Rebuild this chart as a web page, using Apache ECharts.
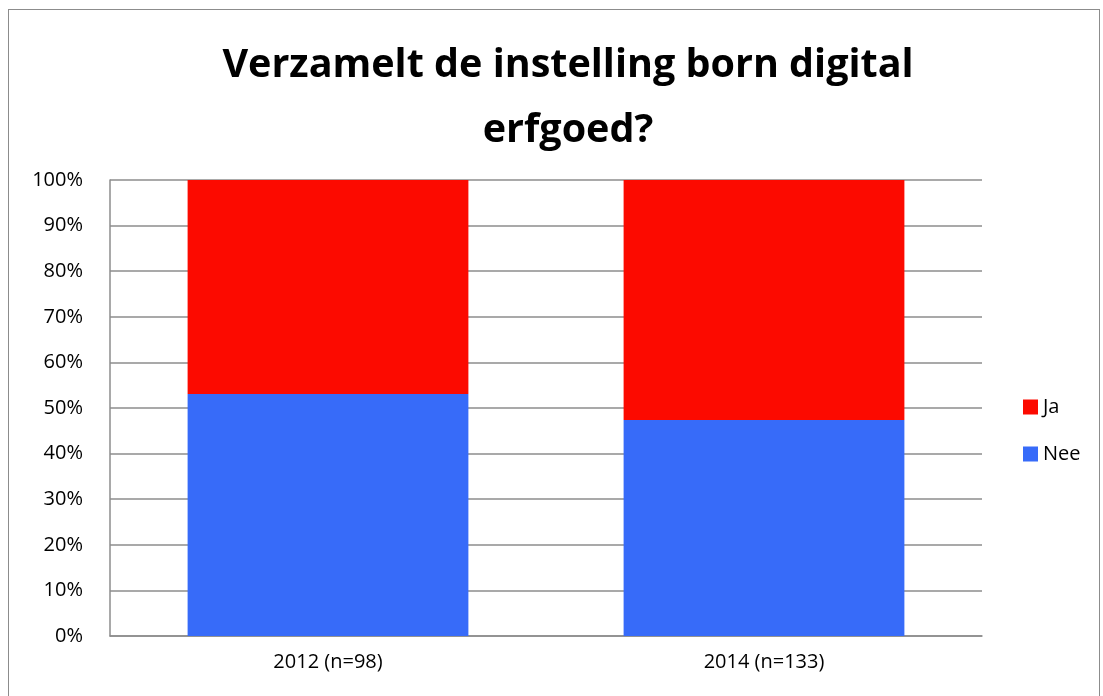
<!DOCTYPE html>
<html>
<head>
<meta charset="utf-8">
<script src="https://cdn.jsdelivr.net/npm/echarts@6/dist/echarts.min.js"></script>
<style>
html,body{margin:0;padding:0;background:#fff;}
#frame{position:absolute;left:8px;top:9px;width:1092px;height:700px;border:1.5px solid #8c8c8c;box-sizing:border-box;}
#container{position:absolute;left:0;top:0;width:1103px;height:696px;}
</style>
</head>
<body>
<div id="frame"></div>
<div id="container"></div>
<script>
var categories = ['2012 (n=98)', '2014 (n=133)'];
var nee = [53.06, 47.37];
var ja = [46.94, 52.63];
var yTicks = [0, 10, 20, 30, 40, 50, 60, 70, 80, 90, 100];

var dom = document.getElementById('container');
var myChart = echarts.init(dom);
var font = 'Open Sans, Liberation Sans, sans-serif';

var option = {
    animation: false,
    title: {
        text: 'Verzamelt de instelling born digital\nerfgoed?',
        left: 563,
        textAlign: 'center',
        top: 28,
        textStyle: {
            fontFamily: font,
            fontSize: 39.5,
            fontWeight: 'bold',
            color: '#000',
            lineHeight: 65
        }
    },
    legend: {
        orient: 'vertical',
        left: 1018,
        top: 392,
        itemWidth: 15,
        itemHeight: 15,
        itemGap: 27,
        icon: 'rect',
        data: ['Ja', 'Nee'],
        textStyle: { fontFamily: font, fontSize: 20, color: '#000' }
    },
    grid: { left: 110, right: 121, top: 180, bottom: 60 },
    xAxis: {
        type: 'category',
        data: categories,
        axisTick: { show: false },
        axisLine: { lineStyle: { color: '#8c8c8c', width: 1.5 } },
        axisLabel: { fontFamily: font, fontSize: 20, color: '#000', margin: 16 }
    },
    yAxis: {
        type: 'value',
        min: 0,
        max: 100,
        interval: 10,
        axisLine: { show: true, lineStyle: { color: '#8c8c8c', width: 1.5 } },
        axisTick: { show: false },
        splitLine: { lineStyle: { color: '#8c8c8c', width: 1.5 } },
        axisLabel: {
            fontFamily: font, fontSize: 20, color: '#000', margin: 27,
            formatter: function (v) { return yTicks.indexOf(v) >= 0 ? v + '%' : ''; }
        }
    },
    series: [
        {
            name: 'Nee', type: 'bar', stack: 'a', data: nee,
            barWidth: '64.4%',
            itemStyle: { color: '#376bf9' }
        },
        {
            name: 'Ja', type: 'bar', stack: 'a', data: ja,
            barWidth: '64.4%',
            itemStyle: { color: '#fc0a00' }
        }
    ]
};
myChart.setOption(option);
</script>
</body>
</html>
